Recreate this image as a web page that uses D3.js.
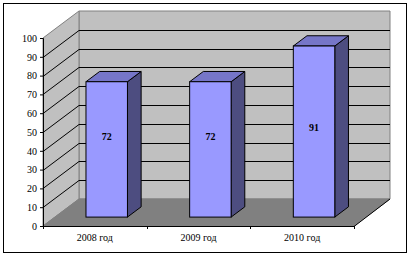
<!DOCTYPE html>
<html>
<head>
<meta charset="utf-8">
<script src="https://cdn.jsdelivr.net/npm/d3@7"></script>
<style>
  body { margin: 0; background: #fff; }
  text { font-family: "Liberation Serif", "Times New Roman", serif; }
</style>
</head>
<body>
<script>
var categories = ["2008 год", "2009 год", "2010 год"];
var values = [72, 72, 91];
var yTickValues = [0, 10, 20, 30, 40, 50, 60, 70, 80, 90, 100];

var W = 412, H = 256;
var dx = 36, dy = -27;          // depth of the 3d box
var f0 = 0.33, f1 = 0.71;       // bar depth position (front / back)

var svg = d3.select("body").append("svg")
    .attr("width", W)
    .attr("height", H);

// chart frame
svg.append("rect")
    .attr("x", 3.5).attr("y", 3.5)
    .attr("width", 403).attr("height", 249)
    .attr("fill", "#fff").attr("stroke", "#000");

var x = d3.scaleBand().domain(categories).range([43, 354])
    .paddingInner(0.6).paddingOuter(0.3);
var y = d3.scaleLinear().domain([0, 100]).range([226, 38]);

var x0 = x.range()[0], x1 = x.range()[1];
var yb = y(0), yt = y(100);

function pts(a) { return a.map(function(p) { return p.join(","); }).join(" "); }

// back wall
svg.append("polygon")
    .attr("points", pts([[x0 + dx, yt + dy], [x1 + dx, yt + dy], [x1 + dx, yb + dy], [x0 + dx, yb + dy]]))
    .attr("fill", "#c0c0c0").attr("stroke", "#808080");
// side wall
svg.append("polygon")
    .attr("points", pts([[x0, yt], [x0 + dx, yt + dy], [x0 + dx, yb + dy], [x0, yb]]))
    .attr("fill", "#c0c0c0").attr("stroke", "#808080");
// floor
svg.append("polygon")
    .attr("points", pts([[x0, yb], [x1, yb], [x1 + dx, yb + dy], [x0 + dx, yb + dy]]))
    .attr("fill", "#808080").attr("stroke", "#808080");

// gridlines
var gridVals = yTickValues.filter(function(v) { return v > 0 && v < 100; });
svg.append("g").selectAll("path").data(gridVals).enter().append("path")
    .attr("d", function(v) {
        var yy = Math.round(y(v)) + 0.5;
        return "M" + x0 + "," + yy + "L" + (x0 + dx) + "," + (yy + dy) + "L" + (x1 + dx) + "," + (yy + dy);
    })
    .attr("fill", "none").attr("stroke", "#000");

// y axis
var yAxis = d3.axisLeft(y).tickValues(yTickValues).tickSize(3).tickPadding(3);
svg.append("g")
    .attr("transform", "translate(" + x0 + ",0)")
    .call(yAxis)
    .call(function(g) {
        g.selectAll("text").attr("font-size", 10).attr("font-family", "Liberation Serif").attr("fill", "#000");
        g.selectAll("line,path").attr("stroke", "#000");
    });

// bars
var bars = svg.append("g").selectAll("g").data(values).enter().append("g");
function bx(i) { return x(categories[i]) + f0 * dx; }
var by0 = yb + f0 * dy;
var ddx = (f1 - f0) * dx, ddy = (f1 - f0) * dy;
var bw = x.bandwidth();

bars.append("polygon") // side
    .attr("points", function(d, i) {
        var l = bx(i) + bw, t = y(d) + f0 * dy;
        return pts([[l, t], [l + ddx, t + ddy], [l + ddx, by0 + ddy], [l, by0]]);
    })
    .attr("fill", "#4d4d80").attr("stroke", "#000");
bars.append("polygon") // top
    .attr("points", function(d, i) {
        var l = bx(i), t = y(d) + f0 * dy;
        return pts([[l, t], [l + ddx, t + ddy], [l + bw + ddx, t + ddy], [l + bw, t]]);
    })
    .attr("fill", "#7676c8").attr("stroke", "#000");
bars.append("rect") // front
    .attr("x", function(d, i) { return bx(i); })
    .attr("y", function(d) { return y(d) + f0 * dy; })
    .attr("width", bw)
    .attr("height", function(d) { return y(0) - y(d); })
    .attr("fill", "#9999ff").attr("stroke", "#000");

bars.append("text")
    .attr("x", function(d, i) { return bx(i) + bw / 2; })
    .attr("y", function(d) { return y(Math.min(d, 100) * 0.25 + 25) + f0 * dy + 4; })
    .attr("text-anchor", "middle")
    .attr("font-size", 10).attr("font-weight", "bold")
    .text(function(d) { return d; });

// x axis + right floor edge
svg.append("path")
    .attr("d", "M" + x0 + "," + (yb + 0.5) + "H" + x1 + "L" + (x1 + dx) + "," + (yb + dy))
    .attr("fill", "none").attr("stroke", "#000");
var tickPos = d3.range(categories.length + 1).map(function(i) { return x0 + i * x.step(); });
svg.append("g").selectAll("line").data(tickPos).enter().append("line")
    .attr("x1", function(d) { return Math.round(d) + 0.5; })
    .attr("x2", function(d) { return Math.round(d) + 0.5; })
    .attr("y1", yb).attr("y2", yb + 3)
    .attr("stroke", "#000");
svg.append("g").selectAll("text").data(categories).enter().append("text")
    .attr("x", function(d) { return x(d) + bw / 2; })
    .attr("y", yb + 15)
    .attr("text-anchor", "middle")
    .attr("font-size", 10)
    .text(function(d) { return d; });
</script>
</body>
</html>
